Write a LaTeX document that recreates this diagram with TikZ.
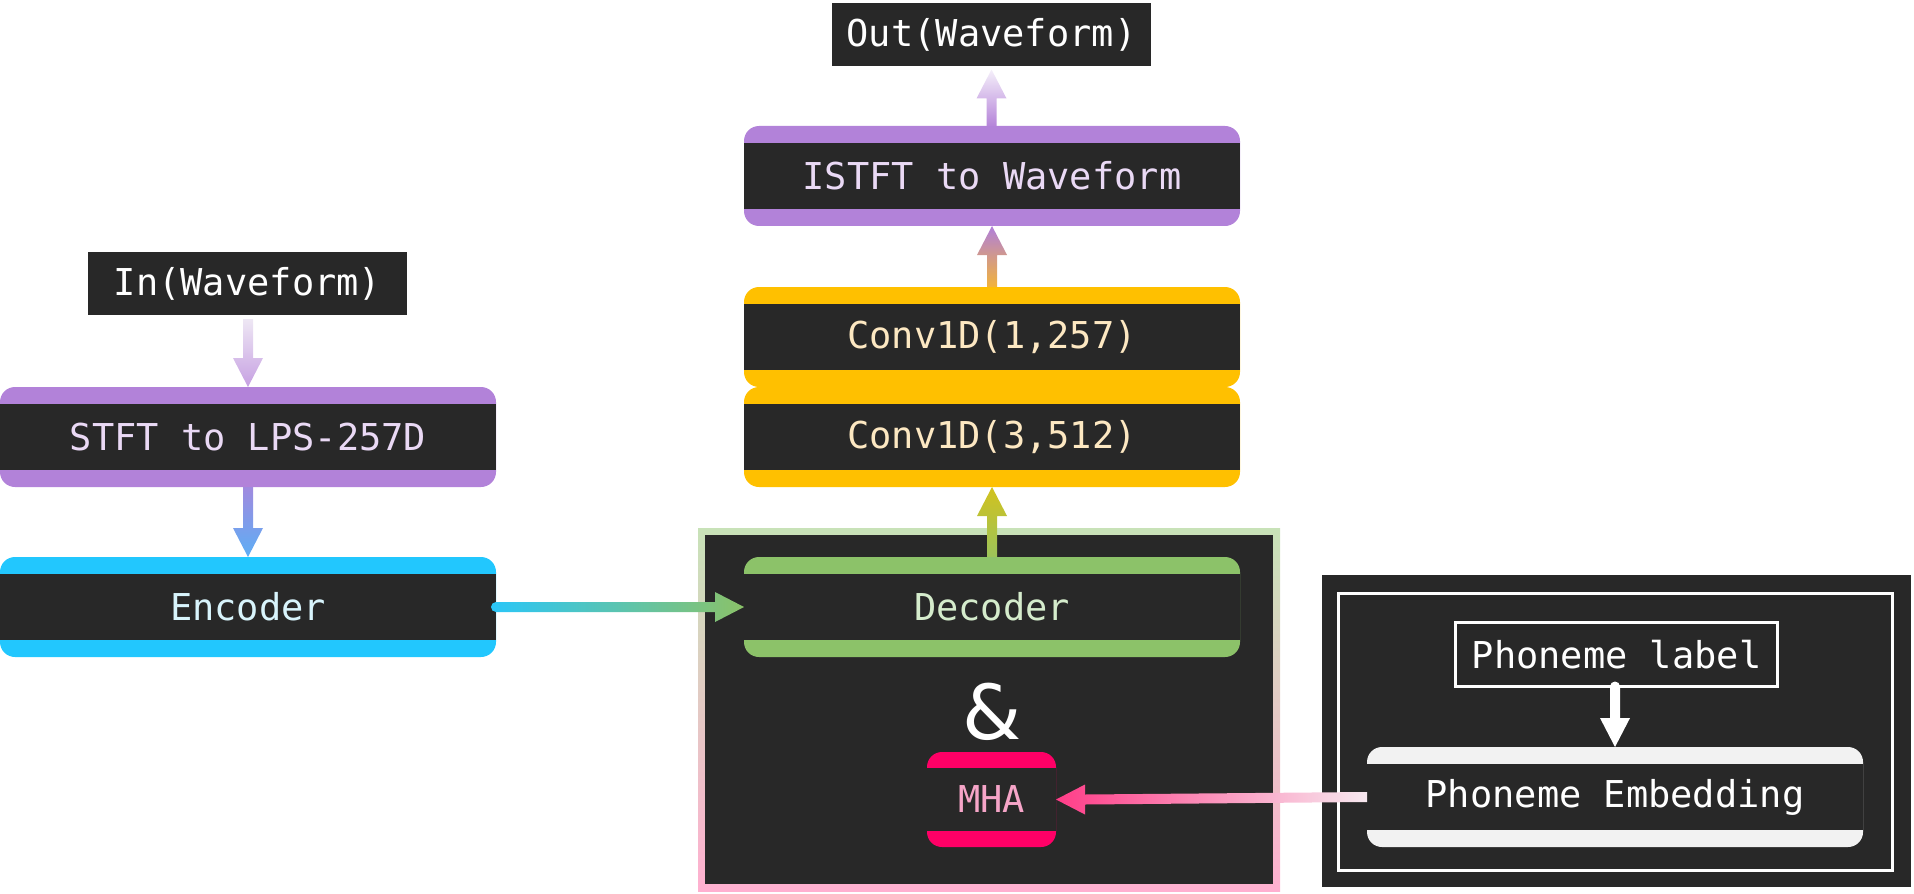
\documentclass[tikz,border=0pt]{standalone}
\usepackage{fontspec}
\setmonofont{DejaVu Sans Mono}
\newfontfamily\ampfont{DejaVu Sans}
\usetikzlibrary{calc}
\definecolor{dk}{HTML}{282828}
\definecolor{cpurple}{HTML}{B282D9}
\definecolor{cblue}{HTML}{22C7FE}
\definecolor{cyellow}{HTML}{FFC000}
\definecolor{cgreen}{HTML}{8CC269}
\definecolor{cpink}{HTML}{FF0066}
\definecolor{clight}{HTML}{F2F2F2}
\definecolor{tpurple}{HTML}{EAD9F5}
\definecolor{tblue}{HTML}{D8F4FC}
\definecolor{tyellow}{HTML}{FDE8C2}
\definecolor{tgreen}{HTML}{D5ECCC}
\definecolor{tpink}{HTML}{F6A5C8}
\definecolor{bordtop}{HTML}{C8E2B8}
\definecolor{bordbot}{HTML}{FFB0D0}
\definecolor{a1s}{HTML}{EEE7F4}
\definecolor{a1t}{HTML}{C6A0E2}
\definecolor{a2s}{HTML}{A08ADF}
\definecolor{a2t}{HTML}{5DAEF5}
\definecolor{a3s}{HTML}{2AC6F8}
\definecolor{a3t}{HTML}{8BC268}
\definecolor{a4s}{HTML}{9CC35A}
\definecolor{a4t}{HTML}{D2C21E}
\definecolor{a5s}{HTML}{F2B33A}
\definecolor{a5t}{HTML}{B07FDB}
\definecolor{a6s}{HTML}{B584D9}
\definecolor{a6t}{HTML}{F5F0FA}
\definecolor{a7s}{HTML}{F7E8EF}
\definecolor{a7t}{HTML}{FF3D88}
\newcommand{\arrdown}[4]{\shade[top color=#3, bottom color=#4] let \p1=#1, \p2=#2 in
  (\x2-2.5pt,\y1) -- (\x2+2.5pt,\y1) -- (\x2+2.5pt,\y2+14.5pt) -- (\x2+7.5pt,\y2+14.5pt) -- (\x2,\y2) -- (\x2-7.5pt,\y2+14.5pt) -- (\x2-2.5pt,\y2+14.5pt) -- cycle;}
\newcommand{\arrup}[4]{\shade[bottom color=#3, top color=#4] let \p1=#1, \p2=#2 in
  (\x2-2.5pt,\y1) -- (\x2+2.5pt,\y1) -- (\x2+2.5pt,\y2-14.5pt) -- (\x2+7.5pt,\y2-14.5pt) -- (\x2,\y2) -- (\x2-7.5pt,\y2-14.5pt) -- (\x2-2.5pt,\y2-14.5pt) -- cycle;}
\begin{document}
\begin{tikzpicture}[x=0.5pt,y=-0.5pt,
  every node/.style={inner sep=0pt, outer sep=0pt},
  lbl/.style={font=\ttfamily\fontsize{18.5}{20}\selectfont},
  barbox/.style={lbl, rounded corners=7.5pt, minimum width=248pt, minimum height=50pt,
    path picture={\fill[dk, sharp corners] ([yshift=-8.5pt]path picture bounding box.north west) rectangle ([yshift=8.5pt]path picture bounding box.south east);}},
  plainbox/.style={lbl, fill=dk, text=white, minimum width=159.5pt, minimum height=31.5pt}]
\useasboundingbox (0,0) rectangle (1914,893);

% left column
\node[plainbox] (inw) at (247.5,283.5) {In(Waveform)};
\node[barbox, fill=cpurple, text=tpurple] (stft) at (248,437) {STFT to LPS-257D};
\node[barbox, fill=cblue, text=tblue] (enc) at (248,607) {Encoder};

% middle column
\node[plainbox] (out) at (991.5,35) {Out(Waveform)};
\node[barbox, fill=cpurple, text=tpurple] (istft) at (992,176) {ISTFT to Waveform};
\node[barbox, fill=cyellow, text=tyellow] (conv1) at (992,337) {Conv1D(1,257)};
\node[barbox, fill=cyellow, text=tyellow] (conv2) at (992,437) {Conv1D(3,512)};

\node[top color=bordtop, bottom color=bordbot, minimum width=291pt, minimum height=181.5pt,
  path picture={\fill[dk] ([shift={(3.5pt,-3.5pt)}]path picture bounding box.north west) rectangle ([shift={(-3.5pt,3.5pt)}]path picture bounding box.south east);}] (cont) at (989,709.5) {};
\node[barbox, fill=cgreen, text=tgreen] (dec) at (992,607) {Decoder};
\node[text=white, font=\ampfont\fontsize{38}{40}\selectfont] (amp) at (992,712) {\&};
\node[lbl, fill=cpink, text=tpink, rounded corners=7.5pt, minimum width=64.5pt, minimum height=47.5pt,
  path picture={\fill[dk, sharp corners] ([yshift=-8pt]path picture bounding box.north west) rectangle ([yshift=8pt]path picture bounding box.south east);}] (mha) at (991.5,799.5) {MHA};

% right group
\node[fill=dk, minimum width=294.5pt, minimum height=156pt] (pgrp) at (1616.5,731) {};
\node[draw=white, line width=1.5pt, minimum width=277pt, minimum height=138.5pt] (pin) at (1615.5,732) {};
\node[lbl, fill=dk, draw=white, line width=1.5pt, text=white, minimum width=161pt, minimum height=32pt] (plabel) at (1616.5,654.5) {Phoneme label};
\node[barbox, fill=clight, text=white] (pemb) at (1615,797) {Phoneme Embedding};

% connectors
\arrdown{($(inw.south)+(0,4)$)}{(stft.north)}{a1s}{a1t}
\arrdown{(stft.south)}{(enc.north)}{a2s}{a2t}
\arrup{(dec.north)}{(conv2.south)}{a4s}{a4t}
\arrup{(conv1.north)}{(istft.south)}{a5s}{a5t}
\arrup{(istft.north)}{($(out.south)+(0,3)$)}{a6s}{a6t}
\shade[left color=a3s, right color=a3t] let \p1=(enc.east), \p2=(dec.west) in
  (\x1,\y2+2.5pt) arc[start angle=90, end angle=270, radius=2.5pt] -- (\x2-14.5pt,\y2-2.5pt) -- (\x2-14.5pt,\y2-7.5pt) -- (\x2,\y2) -- (\x2-14.5pt,\y2+7.5pt) -- (\x2-14.5pt,\y2+2.5pt) -- cycle;
\shade[left color=a7t, right color=a7s] let \p1=(pemb.west), \p2=(mha.east) in
  (\x1,\y1+2.5pt) -- (\x2+14.5pt,\y2+2.5pt) -- (\x2+14.5pt,\y2+7.5pt) -- (\x2,\y2) -- (\x2+14.5pt,\y2-7.5pt) -- (\x2+14.5pt,\y2-2.5pt) -- (\x1,\y1-2.5pt) -- cycle;
\fill[white] let \p1=(plabel.south), \p2=(pemb.north) in
  (\x2-2.5pt,\y1) arc[start angle=180, end angle=0, radius=2.5pt] -- (\x2+2.5pt,\y2+14.5pt) -- (\x2+7.5pt,\y2+14.5pt) -- (\x2,\y2) -- (\x2-7.5pt,\y2+14.5pt) -- (\x2-2.5pt,\y2+14.5pt) -- cycle;
\end{tikzpicture}
\end{document}
